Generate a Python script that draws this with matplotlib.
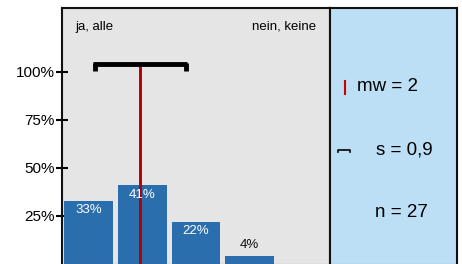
import matplotlib
matplotlib.use("Agg")
import matplotlib.pyplot as plt

plt.rcParams['font.family'] = ['Liberation Sans', 'DejaVu Sans']

# data
categories = [1, 2, 3, 4, 5]
shares = [0.33, 0.41, 0.22, 0.04, 0.0]
bar_labels = ["33%", "41%", "22%", "4%", ""]
y_ticks = [0.25, 0.50, 0.75, 1.00]
y_tick_labels = ["25%", "50%", "75%", "100%"]
mean_value = 1.96
sd_value = 0.88
left_label = "ja, alle"
right_label = "nein, keine"
stat_texts = ["mw = 2", "s = 0,9", "n = 27"]

W, H = 462, 264
fig = plt.figure(figsize=(W / 100, H / 100), dpi=100)

# main panel
ax = fig.add_axes([62 / W, 0 / H, (330 - 62) / W, 256 / H])
ax.set_facecolor("#e5e5e5")
ax.bar(categories, shares, width=0.91, color="#2b6ead", zorder=2)
ax.set_xlim(0.5, 5.5)
ax.set_ylim(0, 1.333)
ax.set_xticks([])
ax.set_yticks(y_ticks)
ax.set_yticklabels(y_tick_labels, fontsize=11)
ax.tick_params(axis="y", direction="inout", length=8, width=1.5, pad=1)
for side in ["left", "top", "right"]:
    ax.spines[side].set_linewidth(1.5)
    ax.spines[side].set_color("#111111")
ax.spines["bottom"].set_color("#777777")

for x, v, lab in zip(categories, shares, bar_labels):
    if not lab:
        continue
    if v > 0.1:
        ax.text(x, v - 0.05, lab, ha="center", va="center", color="white", fontsize=9.5, zorder=4)
    else:
        ax.text(x, v + 0.06, lab, ha="center", va="center", color="#111111", fontsize=9.5, zorder=4)

# mean line and sd bar
bar_y = 1.04
ax.plot([mean_value, mean_value], [0, bar_y], color="#b30000", lw=2.1, zorder=3)
lo, hi = mean_value - sd_value, mean_value + sd_value
ax.plot([lo, hi], [bar_y, bar_y], color="black", lw=3.5, solid_capstyle="butt", zorder=5)
ax.plot([lo + 0.03, lo + 0.03], [bar_y + 0.005, bar_y - 0.035], color="black", lw=3.5, solid_capstyle="butt", zorder=5)
ax.plot([hi - 0.03, hi - 0.03], [bar_y + 0.005, bar_y - 0.035], color="black", lw=3.5, solid_capstyle="butt", zorder=5)

ax.text(0.048, 0.926, left_label, transform=ax.transAxes, ha="left", va="center", fontsize=9.5)
ax.text(0.948, 0.926, right_label, transform=ax.transAxes, ha="right", va="center", fontsize=9.5)

# stats panel
ax2 = fig.add_axes([330 / W, 0 / H, (457 - 330) / W, 256 / H])
ax2.set_facecolor("#bcdff6")
ax2.set_xlim(0, 1)
ax2.set_ylim(0, 1)
ax2.set_xticks([])
ax2.set_yticks([])
for side in ["left", "top", "right"]:
    ax2.spines[side].set_linewidth(1.5)
    ax2.spines[side].set_color("#111111")
ax2.spines["bottom"].set_color("#777777")

ax2.plot([0.117, 0.117], [0.664, 0.715], color="#cc0000", lw=1.5)
ax2.plot([0.06, 0.06, 0.16, 0.16], [0.437, 0.447, 0.447, 0.437], color="black", lw=1.2)

ax2.text(0.21, 0.695, stat_texts[0], ha="left", va="center", fontsize=13.5)
ax2.text(0.36, 0.445, stat_texts[1], ha="left", va="center", fontsize=13.5)
ax2.text(0.352, 0.2, stat_texts[2], ha="left", va="center", fontsize=13.5)

fig.savefig("out.png", dpi=100)
